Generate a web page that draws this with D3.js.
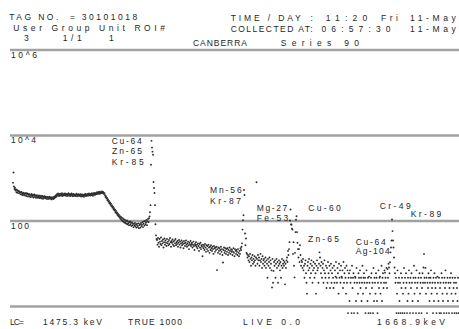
<!DOCTYPE html>
<html>
<head>
<meta charset="utf-8">
<script src="https://cdn.jsdelivr.net/npm/d3@7"></script>
<style>
  html, body { margin: 0; padding: 0; background: #fff; }
  svg { display: block; }
  text { font-family: "Liberation Sans", Arial, sans-serif; font-size: 8.5px; fill: #262626; white-space: pre; }
</style>
</head>
<body>
<div class="chart"></div>
<script>
// counts per channel left to right (1475.3 keV .. 1668.9 keV)
const plateau = [789, 1360, 640, 560, 600, 515, 548, 470, 530, 455, 512, 500, 448, 488,
  470, 420, 455, 478, 410, 446, 398, 462, 425, 440,
  395, 438, 452, 385, 420, 441, 372, 410, 430, 380,
  415, 362, 402, 428, 370, 395, 410, 355, 392, 418,
  365, 398, 350, 385, 402, 348, 380, 360, 395, 342,
  378, 352, 390, 338, 365, 385, 332, 370, 355, 380,
  340, 372, 348, 330, 368, 352, 325, 362, 340, 372,
  330, 355, 342, 320, 360, 338, 352, 328, 370, 345,
  380, 358, 400, 372, 425, 395, 440, 405, 385, 430,
  400, 438, 392, 415, 445, 385, 420, 398, 435, 405,
  440, 392, 418, 432, 385, 425, 402, 446, 390, 415,
  428, 385, 410, 440, 395, 418, 380, 430, 405, 392,
  420, 384, 408, 435, 378, 415, 398, 425, 382, 410,
  392, 425, 375, 405, 420, 380, 412, 398, 370, 418,
  400, 428, 385, 410, 395, 432, 388, 415, 440, 398,
  425, 395, 438, 405, 448, 415, 390, 430, 452, 410,
  440, 418, 455, 425, 470, 435, 448, 478, 430, 462,
  482, 440, 470, 455, 490, 448, 475, 460, 430, 445];
const edge = [400, 362, 378, 335, 345, 305, 318, 282, 295, 258,
  270, 240, 255, 222, 232, 205, 215, 188, 198, 176,
  185, 160, 172, 150, 158, 138, 148, 130, 138, 120,
  130, 112, 124, 106, 118, 100, 114, 96, 108, 92,
  106, 90, 100, 86, 103, 84, 96, 88, 80, 94,
  98, 82, 90, 76, 94, 80, 88, 72, 85, 78,
  90, 74, 82, 70, 86, 78, 72, 88, 68, 80,
  84, 70, 90, 76, 82, 94, 72, 86, 98, 78,
  100, 84, 92, 106, 80, 98, 112, 94, 116, 128];
const peakCu64 = [160, 235, 2065, 7500, 5210, 4190, 3560, 820, 592, 451, 235, 84, 46, 38];
const cloudA = [36, 28, 40, 31, 25, 38, 33, 29, 41, 27,
  34, 30, 37, 24, 32, 39, 28, 35, 31, 26,
  38, 30, 33, 27, 36, 29, 40, 32, 25, 34,
  31, 37, 28, 33, 26, 35, 30, 38, 27, 32,
  29, 34, 25, 31, 36, 28, 33, 24, 30, 35,
  27, 32, 29, 23, 34, 30, 26, 31, 35, 28,
  25, 30, 33, 27, 22, 31, 28, 34, 26, 29,
  31, 24, 28, 33, 26, 21, 29, 27, 32, 25,
  28, 23, 30, 26, 20, 29, 24, 31, 22, 27,
  25, 15, 28, 23, 26, 21, 29, 24, 19, 27,
  22, 26, 20, 28, 24, 18, 25, 21, 27, 23,
  20, 25, 22, 17, 26, 23, 19, 24, 21, 25,
  7.1, 22, 18, 24, 20, 23, 17, 21, 25, 19,
  22, 16, 10.7, 21, 24, 18, 20, 23, 17, 22,
  19, 23, 16, 21, 18, 24, 20, 17, 22, 19,
  21, 16, 19, 23, 18, 15, 22, 20, 17, 21,
  19, 16, 22, 18, 15, 20, 17, 23];
const peakMn56 = [21, 25, 30, 63, 104, 136, 531, 405, 51, 27, 39, 18, 17, 14, 16, 12];
const cloudB = [15, 11, 17, 13, 9, 14, 12, 16, 10, 13,
  11, 15, 12, 9, 14, 807, 13, 10, 16, 12,
  14, 9, 12, 17, 11, 13, 8, 15, 10, 12,
  13, 9, 11, 14, 8, 12, 10, 4.7, 13, 9,
  11, 14, 8, 12, 10, 7, 2.8, 13, 3.6, 6.8,
  11, 9, 12, 4.7, 10, 13, 8, 11, 3.6, 9,
  12, 10, 7, 11, 4.7, 9, 13, 8, 10, 12,
  9, 11, 3.3, 10, 8, 12, 14, 11, 20, 16];
const peakMg27 = [22, 32, 103, 186, 83, 83, 66, 63, 17, 32, 9, 4.8, 18,
  55, 107, 129, 55, 31, 22, 14, 22, 11, 27, 16, 9, 12];
const cloudC = [11, 8, 13, 7, 9, 4.7, 10, 12, 6, 3.6,
  2.0, 9, 11, 7, 13, 8, 4.7, 10, 6, 12,
  9, 3.6, 7, 11, 8, 4.7, 10, 6, 2.0, 9,
  12, 7, 8, 3.6, 10, 18.5, 14, 9, 6, 11,
  4.7, 8, 10, 3.6, 7, 12, 6, 4.7, 9, 2.7,
  8, 3.6, 11, 6, 4.7, 9, 2.7, 7, 10, 3.6,
  6, 8, 4.7, 2.7, 9, 3.6, 7, 5, 11, 4.7,
  3.6, 8, 6, 2.0, 10, 4.7, 7, 3.6, 9, 5,
  4.7, 7, 2.7, 11, 3.6, 6, 8, 4.7, 2.0, 9,
  3.6, 7, 0, 4.7, 6, 1.35];
const tail = [7, 3.6, 4.7, 0, 9, 2.7, 4.7, 6, 0, 3.6,
  5, 4.7, 1.35, 8, 3.6, 0, 2.0, 6, 4.7, 3.6,
  7, 2.7, 4.7, 1.35, 3.6, 9, 2.0, 4.7, 6, 3.6,
  4.7, 0, 2.7, 7, 3.6, 1.35, 4.7, 0, 5, 3.6,
  2.0, 0, 4.7, 6, 2.7, 3.6, 0, 8, 1.35, 4.7,
  3.6, 2.0, 6, 4.7, 1.35, 0, 3.6, 7, 2.7, 4.7,
  5, 2.0, 3.6, 9, 1.35, 4.7, 6, 2.7, 3.6, 7,
  6.2, 4.7, 3.6, 8, 2.7, 7.5, 4.7, 10, 8.2, 6,
  10.8, 18.5, 24, 35, 108, 58, 35, 24, 14, 8.2,
  6, 3.6, 4.7, 0, 2.0, 7, 3.6, 0, 4.7, 1.35,
  3.6, 0, 6, 2.7, 4.7, 0, 2.0, 3.6, 8, 0,
  4.7, 2.7, 6, 3.6, 0, 1.35, 4.7, 2.0, 7, 3.6,
  0, 4.7, 2.7, 6, 3.6, 1.35, 0, 4.7, 9, 2.0,
  3.6, 4.7, 0, 7, 2.7, 3.6, 1.35, 4.7, 0, 6,
  2.0, 3.6, 4.7, 0, 2.7, 6, 3.6, 8.2, 17, 4.7,
  3.6, 8, 2.0, 4.7, 0, 3.6, 2.7, 6, 4.7, 1.35,
  3.6, 4.7, 7, 2.0, 2.7, 3.6, 0, 4.7, 1.35, 6,
  3.6, 2.7, 4.7, 0, 2.0, 5, 3.6, 1.35, 4.7, 0,
  2.7, 3.6, 0, 6, 4.7, 2.0, 1.35, 3.6, 0, 4.7,
  2.7, 7, 3.6, 0, 2.0, 4.7, 1.35, 3.6, 0, 2.7,
  4.7, 3.6, 6, 2.0, 0, 4.7, 1.35, 2.7, 3.6, 0,
  4.7, 2.0, 3.6, 0, 2.7, 1.35, 4.7, 0];

// decade grid lines and their labels
const gridDecades = [1e6, 1e4, 1e2, 1];
const gridLabels = ['10^6', '10^4', '100', ''];

// nuclide tags written next to the peaks
const peakTags = ['Cu-64', 'Zn-65', 'Kr-85', 'Mn-56', 'Kr-87', 'Mg-27', 'Fe-53',
  'Cu-60', 'Cr-49', 'Kr-89', 'Zn-65', 'Cu-64', 'Ag-104'];

// printout header / footer fields
const headerTexts = ['TAG NO.', '=', '30101018', 'User Group Unit ROI#', '3', '1/1', '1',
  'CANBERRA', 'Series 90', 'TIME / DAY', ':', '11:20', 'Fri', '11-May',
  'COLLECTED AT:', '06:57:30', '11-May'];
const footerTexts = ['LC=', '1475.3 keV', 'TRUE 1000', 'LIVE 0.0', '1668.9keV'];

function drawSpectrum() {
  const svg = d3.select('div.chart').append('svg')
    .attr('width', 459)
    .attr('height', 329);

  const counts = [].concat(plateau, edge, peakCu64, cloudA, peakMn56, cloudB, peakMg27, cloudC, tail);

  const x = d3.scaleLinear().domain([0, counts.length - 1]).range([13, 458.5]);
  const y = d3.scaleLog().domain([1, 1e6]).range([306.5, 50]);
  const ZERO_LEVEL = 0.7; // empty channels are printed just under the baseline

  // grid
  svg.append('g').selectAll('line')
    .data(gridDecades)
    .enter()
    .append('line')
    .attr('x1', 10)
    .attr('x2', 459)
    .attr('y1', d => y(d))
    .attr('y2', d => y(d))
    .attr('stroke', '#a2a2a2')
    .attr('stroke-width', 2.4);

  svg.append('g').selectAll('text')
    .data(gridDecades)
    .enter()
    .append('text')
    .attr('x', 11)
    .attr('y', d => y(d) + 7.5)
    .attr('textLength', (d, i) => [26, 25, 18, 0][i] || null)
    .text((d, i) => gridLabels[i]);

  // spectrum points
  svg.append('g').selectAll('circle')
    .data(counts)
    .enter()
    .append('circle')
    .attr('cx', (d, i) => x(i))
    .attr('cy', d => y(d > 0 ? d : ZERO_LEVEL))
    .attr('r', 0.95)
    .attr('fill', '#2a2a2a');

  // tag positions [x, baseline, width]
  const tagPos = [[111.7, 143.5, 30], [112, 154, 30], [111.7, 165, 32], [210, 193.3, 31.7],
    [210, 203.5, 31], [256.7, 210.7, 30.6], [256.7, 220.5, 31.6], [308.3, 210.7, 32.4],
    [379.7, 209, 31], [410.7, 216.7, 30.6], [308, 241.7, 31], [355.7, 245, 30], [355.7, 254, 34]];
  svg.append('g').selectAll('text')
    .data(peakTags)
    .enter()
    .append('text')
    .attr('x', (d, i) => tagPos[i][0])
    .attr('y', (d, i) => tagPos[i][1])
    .attr('textLength', (d, i) => tagPos[i][2])
    .attr('lengthAdjust', 'spacing')
    .text(d => d);

  const headerPos = [[9.3, 20, 49], [70, 20, 0], [81.7, 20, 55.6], [13.3, 30.5, 151.7],
    [24, 40.7, 0], [62.7, 40.7, 19], [109, 40.7, 0],
    [193, 45.5, 54], [280.7, 45.5, 78.3], [230.7, 20.7, 70], [310.5, 20.7, 0],
    [325.7, 20.7, 41.6], [381, 20.7, 17], [410, 20.7, 45.7],
    [230.7, 31.7, 82], [321.5, 31.7, 69], [410, 31.7, 45.7]];
  svg.append('g').selectAll('text')
    .data(headerTexts)
    .enter()
    .append('text')
    .attr('x', (d, i) => headerPos[i][0])
    .attr('y', (d, i) => headerPos[i][1])
    .attr('textLength', (d, i) => headerPos[i][2] || null)
    .attr('lengthAdjust', 'spacing')
    .text(d => d);

  const footerPos = [[10, 325, 14], [43, 325, 59], [128, 325, 54], [243, 325, 57], [377, 325, 68]];
  svg.append('g').selectAll('text')
    .data(footerTexts)
    .enter()
    .append('text')
    .attr('x', (d, i) => footerPos[i][0])
    .attr('y', (d, i) => footerPos[i][1])
    .attr('textLength', (d, i) => footerPos[i][2])
    .attr('lengthAdjust', 'spacing')
    .text(d => d);
}

drawSpectrum();
</script>
</body>
</html>
